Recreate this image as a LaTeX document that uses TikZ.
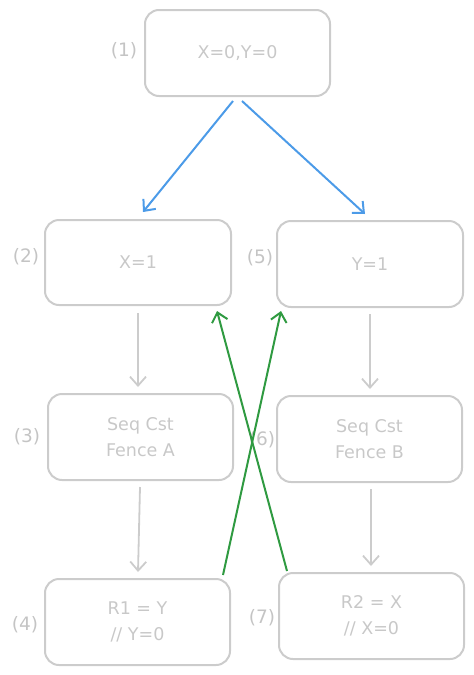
\documentclass[tikz,border=0pt]{standalone}
\usepackage{fontspec}
\setmainfont{DejaVu Sans}
\usetikzlibrary{arrows.meta}
\definecolor{boxgray}{HTML}{CCCCCC}
\definecolor{txtgray}{HTML}{C8C8C8}
\definecolor{lblgray}{HTML}{C4C4C4}
\definecolor{blueline}{HTML}{4C9BE8}
\definecolor{greenline}{HTML}{2F9A41}
\begin{document}
\begin{tikzpicture}[x=1pt,y=-1pt,
  stepbox/.style={draw=boxgray, line width=2pt, rounded corners=14pt,
    minimum width=185pt, minimum height=86pt, text=txtgray,
    font=\fontsize{17.5}{26}\selectfont, align=center, inner sep=0pt},
  numlabel/.style={text=lblgray, font=\fontsize{18.5}{20}\selectfont, inner sep=0pt},
  tip/.style={-{Straight Barb[length=9pt,width=16pt]}},
  bluearrow/.style={tip, draw=blueline, line width=2pt},
  grayarrow/.style={tip, draw=boxgray, line width=1.8pt},
  greenarrow/.style={tip, draw=greenline, line width=2pt}]
\useasboundingbox (0,0) rectangle (474,675);
\node[stepbox] (b1) at (237.5,53) {X=0,Y=0};
\node[stepbox, minimum width=186pt, minimum height=85pt] (b2) at (138,262.5) {X=1};
\node[stepbox, minimum width=186pt] (b5) at (370,264) {Y=1};
\node[stepbox] (b3) at (140.5,437) {Seq Cst\\Fence A};
\node[stepbox] (b6) at (369.5,439) {Seq Cst\\Fence B};
\node[stepbox] (b4) at (137.5,622) {R1 = Y\\// Y=0};
\node[stepbox] (b7) at (371.5,616) {R2 = X\\// X=0};
\node[numlabel] (l1) at (124,51) {(1)};
\node[numlabel] (l2) at (26,257) {(2)};
\node[numlabel] (l5) at (260,258) {(5)};
\node[numlabel] (l3) at (27,437) {(3)};
\node[numlabel] (l6) at (262,440) {(6)};
\node[numlabel] (l4) at (25,625) {(4)};
\node[numlabel] (l7) at (262,618) {(7)};
\draw[bluearrow] ([xshift=-4.5pt,yshift=-4pt]b1.south) -- ([xshift=5pt,yshift=7pt]b2.north);
\draw[bluearrow] ([xshift=4.5pt,yshift=-4pt]b1.south) -- ([xshift=-5pt,yshift=6pt]b5.north);
\draw[grayarrow] ([yshift=-7pt]b2.south) -- ([xshift=-2.5pt,yshift=6pt]b3.north);
\draw[grayarrow] ([xshift=-0.5pt,yshift=-6pt]b3.south) -- ([xshift=0.5pt,yshift=6pt]b4.north);
\draw[grayarrow] ([yshift=-6pt]b5.south) -- ([xshift=0.5pt,yshift=6pt]b6.north);
\draw[grayarrow] ([xshift=1.5pt,yshift=-6pt]b6.south) -- ([xshift=-0.5pt,yshift=6pt]b7.north);
\draw[greenarrow] ([xshift=-8pt,yshift=3pt]b4.north east) -- ([xshift=5pt,yshift=-3pt]b5.south west);
\draw[greenarrow] ([xshift=9pt,yshift=1pt]b7.north west) -- ([xshift=-15pt,yshift=-5pt]b2.south east);
\end{tikzpicture}
\end{document}
